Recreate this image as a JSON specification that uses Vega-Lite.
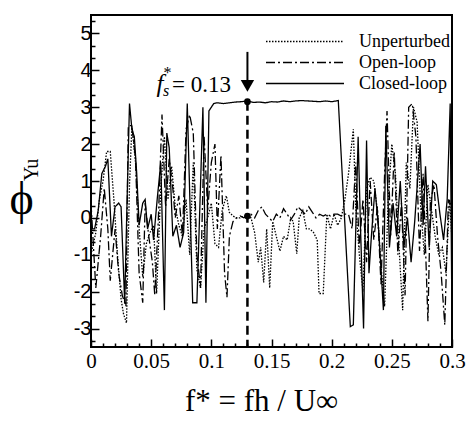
{
  "$schema": "https://vega.github.io/schema/vega-lite/v6.json",
  "width": 361,
  "height": 332,
  "autosize": {"type": "none"},
  "padding": {"left": 91, "top": 15, "right": 16, "bottom": 80},
  "background": "white",
  "config": {"view": {"stroke": "black", "strokeWidth": 2}},
  "datasets": {
    "phase": [
      {"series":"Unperturbed","f":0.000,"phi":-1.0},{"series":"Unperturbed","f":0.004,"phi":-0.4},{"series":"Unperturbed","f":0.007,"phi":0.5},{"series":"Unperturbed","f":0.010,"phi":1.0},{"series":"Unperturbed","f":0.013,"phi":1.8},{"series":"Unperturbed","f":0.016,"phi":1.8},{"series":"Unperturbed","f":0.019,"phi":0.5},{"series":"Unperturbed","f":0.022,"phi":-1.0},{"series":"Unperturbed","f":0.025,"phi":-2.2},{"series":"Unperturbed","f":0.027,"phi":-2.6},{"series":"Unperturbed","f":0.0295,"phi":-2.85},{"series":"Unperturbed","f":0.032,"phi":0.9},{"series":"Unperturbed","f":0.034,"phi":2.5},{"series":"Unperturbed","f":0.037,"phi":1.5},{"series":"Unperturbed","f":0.040,"phi":-0.3},{"series":"Unperturbed","f":0.043,"phi":-1.6},{"series":"Unperturbed","f":0.046,"phi":-0.7},{"series":"Unperturbed","f":0.049,"phi":-0.4},{"series":"Unperturbed","f":0.052,"phi":-0.2},{"series":"Unperturbed","f":0.0545,"phi":-2.05},{"series":"Unperturbed","f":0.058,"phi":0.8},{"series":"Unperturbed","f":0.061,"phi":2.2},{"series":"Unperturbed","f":0.064,"phi":0.5},{"series":"Unperturbed","f":0.067,"phi":1.4},{"series":"Unperturbed","f":0.070,"phi":0.3},{"series":"Unperturbed","f":0.073,"phi":-0.2},{"series":"Unperturbed","f":0.076,"phi":-0.5},{"series":"Unperturbed","f":0.079,"phi":0.5},{"series":"Unperturbed","f":0.082,"phi":-1.0},{"series":"Unperturbed","f":0.085,"phi":1.5},{"series":"Unperturbed","f":0.088,"phi":-1.4},{"series":"Unperturbed","f":0.091,"phi":-1.9},{"series":"Unperturbed","f":0.094,"phi":-0.3},{"series":"Unperturbed","f":0.097,"phi":0.0},{"series":"Unperturbed","f":0.100,"phi":0.4},{"series":"Unperturbed","f":0.103,"phi":-0.7},{"series":"Unperturbed","f":0.106,"phi":-0.8},{"series":"Unperturbed","f":0.109,"phi":0.2},{"series":"Unperturbed","f":0.1125,"phi":0.6},{"series":"Unperturbed","f":0.115,"phi":0.15},{"series":"Unperturbed","f":0.118,"phi":0.05},{"series":"Unperturbed","f":0.121,"phi":0.0},{"series":"Unperturbed","f":0.124,"phi":0.0},{"series":"Unperturbed","f":0.127,"phi":0.05},{"series":"Unperturbed","f":0.130,"phi":0.05},{"series":"Unperturbed","f":0.133,"phi":0.0},{"series":"Unperturbed","f":0.136,"phi":-0.4},{"series":"Unperturbed","f":0.139,"phi":-1.2},{"series":"Unperturbed","f":0.141,"phi":-0.8},{"series":"Unperturbed","f":0.1435,"phi":-1.75},{"series":"Unperturbed","f":0.146,"phi":-0.3},{"series":"Unperturbed","f":0.1485,"phi":-1.9},{"series":"Unperturbed","f":0.151,"phi":-0.1},{"series":"Unperturbed","f":0.154,"phi":-0.5},{"series":"Unperturbed","f":0.157,"phi":-0.9},{"series":"Unperturbed","f":0.160,"phi":-0.5},{"series":"Unperturbed","f":0.163,"phi":-0.6},{"series":"Unperturbed","f":0.166,"phi":0.0},{"series":"Unperturbed","f":0.168,"phi":-0.1},{"series":"Unperturbed","f":0.171,"phi":-0.97},{"series":"Unperturbed","f":0.173,"phi":0.0},{"series":"Unperturbed","f":0.176,"phi":0.2},{"series":"Unperturbed","f":0.179,"phi":-0.3},{"series":"Unperturbed","f":0.182,"phi":-0.3},{"series":"Unperturbed","f":0.185,"phi":-0.4},{"series":"Unperturbed","f":0.188,"phi":-0.6},{"series":"Unperturbed","f":0.1895,"phi":-2.05},{"series":"Unperturbed","f":0.193,"phi":-2.05},{"series":"Unperturbed","f":0.196,"phi":0.1},{"series":"Unperturbed","f":0.199,"phi":-0.3},{"series":"Unperturbed","f":0.202,"phi":0.1},{"series":"Unperturbed","f":0.205,"phi":-0.2},{"series":"Unperturbed","f":0.208,"phi":0.0},{"series":"Unperturbed","f":0.211,"phi":0.5},{"series":"Unperturbed","f":0.214,"phi":1.2},{"series":"Unperturbed","f":0.218,"phi":2.4},{"series":"Unperturbed","f":0.220,"phi":0.3},{"series":"Unperturbed","f":0.223,"phi":-1.0},{"series":"Unperturbed","f":0.226,"phi":-2.0},{"series":"Unperturbed","f":0.229,"phi":0.8},{"series":"Unperturbed","f":0.232,"phi":1.1},{"series":"Unperturbed","f":0.235,"phi":1.0},{"series":"Unperturbed","f":0.238,"phi":0.2},{"series":"Unperturbed","f":0.241,"phi":-1.3},{"series":"Unperturbed","f":0.244,"phi":-2.4},{"series":"Unperturbed","f":0.247,"phi":0.5},{"series":"Unperturbed","f":0.250,"phi":2.0},{"series":"Unperturbed","f":0.253,"phi":1.2},{"series":"Unperturbed","f":0.256,"phi":-0.8},{"series":"Unperturbed","f":0.259,"phi":-2.5},{"series":"Unperturbed","f":0.262,"phi":1.5},{"series":"Unperturbed","f":0.265,"phi":0.8},{"series":"Unperturbed","f":0.268,"phi":3.0},{"series":"Unperturbed","f":0.271,"phi":2.6},{"series":"Unperturbed","f":0.274,"phi":0.3},{"series":"Unperturbed","f":0.277,"phi":-1.0},{"series":"Unperturbed","f":0.280,"phi":0.9},{"series":"Unperturbed","f":0.283,"phi":0.2},{"series":"Unperturbed","f":0.286,"phi":-0.5},{"series":"Unperturbed","f":0.289,"phi":-1.0},{"series":"Unperturbed","f":0.292,"phi":-0.8},{"series":"Unperturbed","f":0.295,"phi":-1.5},{"series":"Unperturbed","f":0.298,"phi":0.5},{"series":"Unperturbed","f":0.300,"phi":-0.6},
      {"series":"Open-loop","f":0.000,"phi":0.4},{"series":"Open-loop","f":0.004,"phi":-1.9},{"series":"Open-loop","f":0.008,"phi":-0.5},{"series":"Open-loop","f":0.011,"phi":0.8},{"series":"Open-loop","f":0.014,"phi":-0.3},{"series":"Open-loop","f":0.016,"phi":-1.7},{"series":"Open-loop","f":0.020,"phi":-0.3},{"series":"Open-loop","f":0.023,"phi":-1.5},{"series":"Open-loop","f":0.026,"phi":-2.1},{"series":"Open-loop","f":0.029,"phi":-2.4},{"series":"Open-loop","f":0.031,"phi":2.5},{"series":"Open-loop","f":0.034,"phi":2.5},{"series":"Open-loop","f":0.037,"phi":1.6},{"series":"Open-loop","f":0.040,"phi":-1.5},{"series":"Open-loop","f":0.043,"phi":-2.3},{"series":"Open-loop","f":0.045,"phi":0.4},{"series":"Open-loop","f":0.048,"phi":-0.5},{"series":"Open-loop","f":0.051,"phi":-1.2},{"series":"Open-loop","f":0.053,"phi":-2.1},{"series":"Open-loop","f":0.056,"phi":0.0},{"series":"Open-loop","f":0.059,"phi":2.8},{"series":"Open-loop","f":0.062,"phi":0.3},{"series":"Open-loop","f":0.065,"phi":1.6},{"series":"Open-loop","f":0.068,"phi":0.8},{"series":"Open-loop","f":0.070,"phi":0.0},{"series":"Open-loop","f":0.073,"phi":0.6},{"series":"Open-loop","f":0.076,"phi":-0.5},{"series":"Open-loop","f":0.079,"phi":2.4},{"series":"Open-loop","f":0.082,"phi":2.8},{"series":"Open-loop","f":0.085,"phi":2.3},{"series":"Open-loop","f":0.088,"phi":-1.0},{"series":"Open-loop","f":0.091,"phi":-1.9},{"series":"Open-loop","f":0.094,"phi":2.2},{"series":"Open-loop","f":0.097,"phi":0.2},{"series":"Open-loop","f":0.100,"phi":1.5},{"series":"Open-loop","f":0.103,"phi":2.0},{"series":"Open-loop","f":0.105,"phi":-0.3},{"series":"Open-loop","f":0.108,"phi":1.7},{"series":"Open-loop","f":0.111,"phi":-1.5},{"series":"Open-loop","f":0.113,"phi":-2.15},{"series":"Open-loop","f":0.115,"phi":-0.5},{"series":"Open-loop","f":0.118,"phi":-0.1},{"series":"Open-loop","f":0.121,"phi":0.0},{"series":"Open-loop","f":0.124,"phi":0.05},{"series":"Open-loop","f":0.127,"phi":0.0},{"series":"Open-loop","f":0.130,"phi":0.05},{"series":"Open-loop","f":0.133,"phi":0.1},{"series":"Open-loop","f":0.136,"phi":0.0},{"series":"Open-loop","f":0.139,"phi":0.2},{"series":"Open-loop","f":0.142,"phi":0.3},{"series":"Open-loop","f":0.145,"phi":0.1},{"series":"Open-loop","f":0.148,"phi":0.0},{"series":"Open-loop","f":0.151,"phi":-0.1},{"series":"Open-loop","f":0.154,"phi":0.1},{"series":"Open-loop","f":0.157,"phi":0.0},{"series":"Open-loop","f":0.160,"phi":0.25},{"series":"Open-loop","f":0.163,"phi":0.1},{"series":"Open-loop","f":0.166,"phi":-0.05},{"series":"Open-loop","f":0.169,"phi":0.1},{"series":"Open-loop","f":0.172,"phi":0.3},{"series":"Open-loop","f":0.175,"phi":0.2},{"series":"Open-loop","f":0.178,"phi":0.1},{"series":"Open-loop","f":0.181,"phi":0.3},{"series":"Open-loop","f":0.184,"phi":0.15},{"series":"Open-loop","f":0.187,"phi":0.0},{"series":"Open-loop","f":0.190,"phi":0.1},{"series":"Open-loop","f":0.193,"phi":0.05},{"series":"Open-loop","f":0.196,"phi":0.1},{"series":"Open-loop","f":0.199,"phi":0.05},{"series":"Open-loop","f":0.202,"phi":0.1},{"series":"Open-loop","f":0.205,"phi":0.1},{"series":"Open-loop","f":0.208,"phi":0.05},{"series":"Open-loop","f":0.211,"phi":0.1},{"series":"Open-loop","f":0.214,"phi":0.1},{"series":"Open-loop","f":0.217,"phi":-0.3},{"series":"Open-loop","f":0.220,"phi":1.5},{"series":"Open-loop","f":0.223,"phi":-0.8},{"series":"Open-loop","f":0.226,"phi":0.5},{"series":"Open-loop","f":0.229,"phi":-1.2},{"series":"Open-loop","f":0.232,"phi":1.0},{"series":"Open-loop","f":0.235,"phi":-0.6},{"series":"Open-loop","f":0.238,"phi":0.3},{"series":"Open-loop","f":0.241,"phi":-1.8},{"series":"Open-loop","f":0.244,"phi":1.2},{"series":"Open-loop","f":0.246,"phi":2.9},{"series":"Open-loop","f":0.249,"phi":-0.5},{"series":"Open-loop","f":0.252,"phi":1.8},{"series":"Open-loop","f":0.255,"phi":-1.0},{"series":"Open-loop","f":0.258,"phi":0.4},{"series":"Open-loop","f":0.261,"phi":-2.1},{"series":"Open-loop","f":0.264,"phi":3.0},{"series":"Open-loop","f":0.267,"phi":3.1},{"series":"Open-loop","f":0.270,"phi":2.2},{"series":"Open-loop","f":0.273,"phi":-0.9},{"series":"Open-loop","f":0.276,"phi":1.2},{"series":"Open-loop","f":0.280,"phi":-2.8},{"series":"Open-loop","f":0.282,"phi":0.4},{"series":"Open-loop","f":0.285,"phi":0.9},{"series":"Open-loop","f":0.288,"phi":-0.5},{"series":"Open-loop","f":0.291,"phi":-1.5},{"series":"Open-loop","f":0.294,"phi":-2.9},{"series":"Open-loop","f":0.297,"phi":0.5},{"series":"Open-loop","f":0.300,"phi":0.3},
      {"series":"Closed-loop","f":0.000,"phi":-0.3},{"series":"Closed-loop","f":0.003,"phi":-0.3},{"series":"Closed-loop","f":0.006,"phi":0.2},{"series":"Closed-loop","f":0.009,"phi":1.2},{"series":"Closed-loop","f":0.012,"phi":1.4},{"series":"Closed-loop","f":0.014,"phi":1.6},{"series":"Closed-loop","f":0.017,"phi":-0.5},{"series":"Closed-loop","f":0.020,"phi":0.3},{"series":"Closed-loop","f":0.023,"phi":0.4},{"series":"Closed-loop","f":0.025,"phi":0.3},{"series":"Closed-loop","f":0.028,"phi":-2.3},{"series":"Closed-loop","f":0.030,"phi":0.5},{"series":"Closed-loop","f":0.032,"phi":3.1},{"series":"Closed-loop","f":0.034,"phi":2.4},{"series":"Closed-loop","f":0.036,"phi":2.2},{"series":"Closed-loop","f":0.038,"phi":1.2},{"series":"Closed-loop","f":0.040,"phi":-0.2},{"series":"Closed-loop","f":0.043,"phi":0.4},{"series":"Closed-loop","f":0.045,"phi":0.5},{"series":"Closed-loop","f":0.047,"phi":-0.3},{"series":"Closed-loop","f":0.050,"phi":0.1},{"series":"Closed-loop","f":0.052,"phi":-0.6},{"series":"Closed-loop","f":0.055,"phi":0.5},{"series":"Closed-loop","f":0.058,"phi":1.5},{"series":"Closed-loop","f":0.061,"phi":-2.5},{"series":"Closed-loop","f":0.063,"phi":2.3},{"series":"Closed-loop","f":0.065,"phi":1.9},{"series":"Closed-loop","f":0.068,"phi":-0.5},{"series":"Closed-loop","f":0.071,"phi":-0.2},{"series":"Closed-loop","f":0.074,"phi":-0.8},{"series":"Closed-loop","f":0.077,"phi":-0.4},{"series":"Closed-loop","f":0.080,"phi":3.1},{"series":"Closed-loop","f":0.0845,"phi":-2.3},{"series":"Closed-loop","f":0.088,"phi":-2.3},{"series":"Closed-loop","f":0.093,"phi":3.0},{"series":"Closed-loop","f":0.0955,"phi":-2.3},{"series":"Closed-loop","f":0.098,"phi":2.9},{"series":"Closed-loop","f":0.102,"phi":3.1},{"series":"Closed-loop","f":0.105,"phi":3.12},{"series":"Closed-loop","f":0.110,"phi":3.1},{"series":"Closed-loop","f":0.115,"phi":3.12},{"series":"Closed-loop","f":0.120,"phi":3.14},{"series":"Closed-loop","f":0.125,"phi":3.15},{"series":"Closed-loop","f":0.130,"phi":3.17},{"series":"Closed-loop","f":0.135,"phi":3.13},{"series":"Closed-loop","f":0.140,"phi":3.14},{"series":"Closed-loop","f":0.145,"phi":3.12},{"series":"Closed-loop","f":0.150,"phi":3.15},{"series":"Closed-loop","f":0.155,"phi":3.14},{"series":"Closed-loop","f":0.160,"phi":3.17},{"series":"Closed-loop","f":0.165,"phi":3.15},{"series":"Closed-loop","f":0.170,"phi":3.17},{"series":"Closed-loop","f":0.175,"phi":3.18},{"series":"Closed-loop","f":0.180,"phi":3.17},{"series":"Closed-loop","f":0.185,"phi":3.16},{"series":"Closed-loop","f":0.190,"phi":3.15},{"series":"Closed-loop","f":0.195,"phi":3.17},{"series":"Closed-loop","f":0.200,"phi":3.15},{"series":"Closed-loop","f":0.2055,"phi":3.18},{"series":"Closed-loop","f":0.2155,"phi":-2.95},{"series":"Closed-loop","f":0.218,"phi":-2.9},{"series":"Closed-loop","f":0.222,"phi":2.2},{"series":"Closed-loop","f":0.224,"phi":-0.3},{"series":"Closed-loop","f":0.2265,"phi":-3.0},{"series":"Closed-loop","f":0.229,"phi":2.1},{"series":"Closed-loop","f":0.231,"phi":-1.5},{"series":"Closed-loop","f":0.233,"phi":-0.5},{"series":"Closed-loop","f":0.236,"phi":0.8},{"series":"Closed-loop","f":0.239,"phi":-0.3},{"series":"Closed-loop","f":0.243,"phi":-2.5},{"series":"Closed-loop","f":0.245,"phi":2.5},{"series":"Closed-loop","f":0.248,"phi":-0.8},{"series":"Closed-loop","f":0.251,"phi":0.4},{"series":"Closed-loop","f":0.254,"phi":-0.5},{"series":"Closed-loop","f":0.257,"phi":1.0},{"series":"Closed-loop","f":0.260,"phi":-0.8},{"series":"Closed-loop","f":0.263,"phi":0.0},{"series":"Closed-loop","f":0.266,"phi":-1.2},{"series":"Closed-loop","f":0.269,"phi":-0.1},{"series":"Closed-loop","f":0.2735,"phi":2.0},{"series":"Closed-loop","f":0.276,"phi":-0.2},{"series":"Closed-loop","f":0.278,"phi":1.4},{"series":"Closed-loop","f":0.281,"phi":-0.8},{"series":"Closed-loop","f":0.284,"phi":1.0},{"series":"Closed-loop","f":0.287,"phi":0.9},{"series":"Closed-loop","f":0.290,"phi":0.1},{"series":"Closed-loop","f":0.293,"phi":-0.6},{"series":"Closed-loop","f":0.296,"phi":0.5},{"series":"Closed-loop","f":0.2985,"phi":3.1},{"series":"Closed-loop","f":0.300,"phi":-2.9}
    ],
    "marker": [{"f": 0.13, "phi": 3.15, "phi2": -3.5}],
    "dots": [{"f": 0.13, "phi": 3.15}, {"f": 0.13, "phi": 0.05}],
    "arrow": [{"f": 0.13, "phi": 4.5, "phi2": 3.7}],
    "arrowhead": [{"f": 0.13, "phi": 3.58}],
    "lab_f": [{"f": 0.0545, "phi": 3.42, "t": "f"}],
    "lab_s": [{"f": 0.0598, "phi": 3.30, "t": "s"}],
    "lab_star": [{"f": 0.0603, "phi": 3.78, "t": "*"}],
    "lab_val": [{"f": 0.0673, "phi": 3.42, "t": "= 0.13"}],
    "lab_yu": [{"f": -0.049, "phi": 1.3, "t": "Yu"}]
  },
  "encoding": {
    "x": {
      "field": "f", "type": "quantitative",
      "scale": {"domain": [0, 0.3], "nice": false, "zero": false},
      "axis": {
        "values": [0,0.01,0.02,0.03,0.04,0.05,0.06,0.07,0.08,0.09,0.1,0.11,0.12,0.13,0.14,0.15,0.16,0.17,0.18,0.19,0.2,0.21,0.22,0.23,0.24,0.25,0.26,0.27,0.28,0.29,0.3],
        "labelExpr": "abs(datum.value*20-round(datum.value*20))<0.001 ? '' + round(datum.value*100)/100 : ''",
        "tickSize": {"condition": {"test": "abs(datum.value*20-round(datum.value*20))<0.001", "value": -8}, "value": -4},
        "tickColor": "black", "tickWidth": 1.5,
        "domain": false, "grid": false,
        "labelFont": "Liberation Serif", "labelFontSize": 21, "labelColor": "black",
        "labelPadding": 11, "labelFlush": false, "labelOverlap": false,
        "title": "f* = fh / U∞",
        "titleFont": "Liberation Serif", "titleFontSize": 31, "titleFontWeight": "normal", "titleColor": "black",
        "titleX": 170, "titleY": 63, "titleBaseline": "alphabetic", "titleAlign": "center"
      }
    },
    "y": {
      "field": "phi", "type": "quantitative",
      "scale": {"domain": [-3.5, 5.5], "nice": false, "zero": false},
      "axis": {
        "values": [-3.3333,-3,-2.6667,-2.3333,-2,-1.6667,-1.3333,-1,-0.6667,-0.3333,0,0.3333,0.6667,1,1.3333,1.6667,2,2.3333,2.6667,3,3.3333,3.6667,4,4.3333,4.6667,5,5.3333],
        "labelExpr": "abs(datum.value-round(datum.value))<0.01 ? '' + round(datum.value) : ''",
        "tickSize": {"condition": {"test": "abs(datum.value-round(datum.value))<0.01", "value": -8}, "value": -4},
        "tickColor": "black", "tickWidth": 1.5,
        "domain": false, "grid": false,
        "labelFont": "Liberation Sans", "labelFontSize": 20, "labelColor": "black",
        "labelPadding": 8, "labelFlush": false, "labelOverlap": false,
        "title": "ϕ",
        "titleFont": "Liberation Serif", "titleFontSize": 46, "titleFontWeight": "normal", "titleColor": "black",
        "titleAngle": 0, "titleX": -70, "titleY": 184, "titleBaseline": "middle", "titleAlign": "center"
      }
    }
  },
  "layer": [
    {
      "data": {"name": "phase"},
      "mark": {"type": "line", "strokeWidth": 1.3, "color": "black"},
      "encoding": {
        "strokeDash": {
          "field": "series", "type": "nominal",
          "scale": {"domain": ["Unperturbed", "Open-loop", "Closed-loop"], "range": [[1.5, 1.5], [9, 3, 2, 3], [1, 0]]},
          "legend": {
            "orient": "none", "legendX": 174, "legendY": 16, "title": null,
            "symbolType": "stroke", "symbolSize": 6084, "symbolStrokeColor": "black", "symbolStrokeWidth": 1.3,
            "labelFont": "Liberation Serif", "labelFontSize": 18, "labelColor": "black",
            "labelOffset": 14, "clipHeight": 21, "rowPadding": 0, "padding": 0
          }
        }
      }
    },
    {
      "data": {"name": "marker"},
      "mark": {"type": "rule", "color": "black", "strokeWidth": 2.5, "strokeDash": [9, 5]},
      "encoding": {"y2": {"field": "phi2"}}
    },
    {
      "data": {"name": "dots"},
      "mark": {"type": "point", "filled": true, "color": "black", "size": 45, "opacity": 1}
    },
    {
      "data": {"name": "arrow"},
      "mark": {"type": "rule", "color": "black", "strokeWidth": 2},
      "encoding": {"y2": {"field": "phi2"}}
    },
    {
      "data": {"name": "arrowhead"},
      "mark": {"type": "point", "shape": "triangle-down", "filled": true, "color": "black", "size": 180, "opacity": 1}
    },
    {
      "data": {"name": "lab_f"},
      "mark": {"type": "text", "font": "Liberation Serif", "fontStyle": "italic", "fontSize": 25, "color": "black", "align": "left", "baseline": "alphabetic"},
      "encoding": {"text": {"field": "t"}}
    },
    {
      "data": {"name": "lab_s"},
      "mark": {"type": "text", "font": "Liberation Serif", "fontStyle": "italic", "fontSize": 16, "color": "black", "align": "left", "baseline": "alphabetic"},
      "encoding": {"text": {"field": "t"}}
    },
    {
      "data": {"name": "lab_star"},
      "mark": {"type": "text", "font": "Liberation Serif", "fontSize": 16, "color": "black", "align": "left", "baseline": "alphabetic"},
      "encoding": {"text": {"field": "t"}}
    },
    {
      "data": {"name": "lab_val"},
      "mark": {"type": "text", "font": "Liberation Serif", "fontSize": 23, "color": "black", "align": "left", "baseline": "alphabetic"},
      "encoding": {"text": {"field": "t"}}
    },
    {
      "data": {"name": "lab_yu"},
      "mark": {"type": "text", "font": "Liberation Serif", "fontSize": 20, "color": "black", "align": "center", "baseline": "middle", "angle": 270},
      "encoding": {"text": {"field": "t"}}
    }
  ]
}
